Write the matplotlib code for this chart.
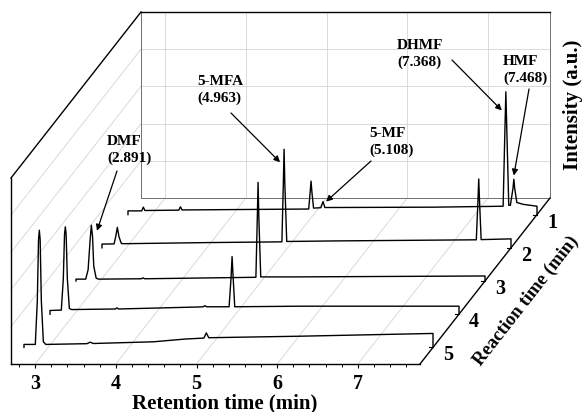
import numpy as np
import matplotlib
matplotlib.use("Agg")
import matplotlib.pyplot as plt
from matplotlib.transforms import ScaledTranslation

plt.rcParams['font.family'] = ['Liberation Serif', 'DejaVu Serif']
plt.rcParams['font.weight'] = 'bold'

# -----------------------------
# Data
# -----------------------------
reaction_times = [1, 2, 3, 4, 5]

ret_1 = [2.70, 2.70, 2.87, 2.89, 2.91, 3.33, 3.35, 3.37, 4.94, 4.958, 4.969, 4.98, 5.00, 5.09, 5.118,
         5.14, 6.50, 7.35, 7.372, 7.384, 7.396, 7.42, 7.44, 7.472, 7.483, 7.494, 7.52, 7.60, 7.77, 7.77]
int_1 = [0.0, 0.02, 0.02, 0.04, 0.022, 0.024, 0.042, 0.025, 0.03, 0.12, 0.18, 0.12, 0.035, 0.037, 0.07,
         0.038, 0.04, 0.045, 0.45, 0.66, 0.45, 0.05, 0.05, 0.14, 0.19, 0.14, 0.065, 0.055, 0.045, 0.0]

ret_2 = [2.70, 2.70, 2.85, 2.87, 2.89, 2.91, 2.94, 2.97, 4.00, 4.93, 4.948, 4.957, 4.966, 4.99, 5.60,
         7.34, 7.36, 7.37, 7.38, 7.40, 7.77, 7.77]
int_2 = [0.0, 0.02, 0.021, 0.06, 0.11, 0.06, 0.023, 0.022, 0.028, 0.032, 0.35, 0.53, 0.35, 0.034, 0.037,
         0.043, 0.25, 0.37, 0.25, 0.044, 0.048, 0.0]

ret_3 = [2.70, 2.70, 2.82, 2.85, 2.875, 2.89, 2.905, 2.92, 2.95, 2.98, 3.51, 3.53, 3.55, 4.93, 4.948,
         4.957, 4.966, 4.99, 5.40, 7.77, 7.77]
int_3 = [0.0, 0.01, 0.01, 0.06, 0.22, 0.30, 0.24, 0.08, 0.015, 0.01, 0.012, 0.017, 0.012, 0.02, 0.35,
         0.53, 0.35, 0.022, 0.022, 0.027, 0.0]

ret_4 = [2.70, 2.70, 2.84, 2.865, 2.88, 2.89, 2.90, 2.915, 2.94, 2.97, 3.51, 3.53, 3.55, 4.56, 4.60,
         4.62, 4.64, 4.92, 4.945, 4.957, 4.97, 4.99, 5.80, 7.77, 7.77]
int_4 = [0.0, 0.02, 0.022, 0.19, 0.43, 0.47, 0.43, 0.19, 0.03, 0.025, 0.028, 0.034, 0.028, 0.039, 0.04,
         0.046, 0.04, 0.04, 0.2, 0.31, 0.2, 0.04, 0.043, 0.043, 0.0]

ret_5 = [2.70, 2.70, 2.84, 2.865, 2.88, 2.89, 2.90, 2.915, 2.94, 2.97, 3.48, 3.52, 3.56, 4.30, 4.70,
         4.93, 4.96, 4.99, 5.40, 6.10, 7.77, 7.77]
int_5 = [0.0, 0.016, 0.016, 0.25, 0.58, 0.63, 0.58, 0.25, 0.03, 0.016, 0.02, 0.028, 0.021, 0.03, 0.045,
         0.05, 0.078, 0.052, 0.055, 0.06, 0.075, 0.0]

traces = {1: (ret_1, int_1), 2: (ret_2, int_2), 3: (ret_3, int_3), 4: (ret_4, int_4), 5: (ret_5, int_5)}

# peak labels: text, trace, arrow tip (ret, int), text pos (fig px), arrow start (fig px)
peak_names = ["DMF\n(2.891)", "5-MFA\n(4.963)", "5-MF\n(5.108)", "DHMF\n(7.368)", "HMF\n(7.468)"]
peak_trace = [3, 2, 1, 1, 1]
peak_tip = [(2.96, 0.27), (4.907, 0.46), (5.155, 0.07), (7.334, 0.56), (7.483, 0.21)]
label_pos = [(107, 150), (197, 90), (369, 142), (397, 54), (503, 70)]
arrow_start = [(117, 171), (231, 113), (371, 161), (452, 60), (529, 89)]

x_min, x_max = 2.70, 7.77
depth_front, depth_back = 5.5, 0.5
step_x, step_y = 0.26, 0.332   # inch per reaction-time unit (oblique view)

W, H = 584, 412
fig = plt.figure(figsize=(W / 100, H / 100), dpi=100)
ax = fig.add_axes([11 / W, 48 / H, 409 / W, 186 / H])
ax.set_xlim(x_min, x_max)
ax.set_ylim(0, 1)
ax.patch.set_visible(False)


def depth(r):
    return ax.transData + ScaledTranslation((depth_front - r) * step_x, (depth_front - r) * step_y,
                                            fig.dpi_scale_trans)


t_back = depth(depth_back)
t_front = depth(depth_front)
grid_c = '#d4d4d4'

# back wall grid
for xv in [3, 4, 5, 6, 7]:
    ax.plot([xv, xv], [0, 1], color=grid_c, lw=0.6, transform=t_back, clip_on=False, zorder=0)
for yv in [0.2, 0.4, 0.6, 0.8]:
    ax.plot([x_min, x_max], [yv, yv], color=grid_c, lw=0.6, transform=t_back, clip_on=False, zorder=0)

# floor and side wall grid (lines going back)
for xv in [3, 4, 5, 6, 7]:
    p0 = t_front.transform((xv, 0))
    p1 = t_back.transform((xv, 0))
    ax.plot([p0[0], p1[0]], [p0[1], p1[1]], color=grid_c, lw=0.6, transform=None, clip_on=False, zorder=0)
for yv in [0.2, 0.4, 0.6, 0.8]:
    p0 = t_front.transform((x_min, yv))
    p1 = t_back.transform((x_min, yv))
    ax.plot([p0[0], p1[0]], [p0[1], p1[1]], color=grid_c, lw=0.6, transform=None, clip_on=False, zorder=0)

# back wall edges
ax.plot([x_min, x_min, x_max, x_max], [1, 0, 0, 1], color='#707070', lw=0.7, transform=t_back,
        clip_on=False, zorder=1)
ax.plot([x_min, x_max], [1, 1], color='k', lw=1.0, transform=t_back, clip_on=False, zorder=3)
# diagonal edges
for (xv, yv) in [(x_min, 1), (x_max, 0)]:
    p0 = t_front.transform((xv, yv))
    p1 = t_back.transform((xv, yv))
    ax.plot([p0[0], p1[0]], [p0[1], p1[1]], color='k', lw=1.0, transform=None, clip_on=False, zorder=3)

# chromatograms, back to front
for r in reaction_times:
    ret, inten = traces[r]
    ax.plot(ret, inten, color='k', lw=1.0, transform=depth(r), clip_on=False, zorder=2)

# reaction time axis ticks and labels
for r in reaction_times:
    tr = depth(r)
    ax.plot([x_max, x_max - 0.05], [0, 0], color='k', lw=0.8, transform=tr, clip_on=False, zorder=3)
    ax.text(x_max, 0, str(r), transform=tr + ScaledTranslation(0.15, -0.08, fig.dpi_scale_trans),
            ha='center', va='center', fontsize=14.5)

# front plane axes
for s in ['top', 'right']:
    ax.spines[s].set_visible(False)
for s in ['left', 'bottom']:
    ax.spines[s].set_linewidth(1.0)
ax.set_yticks([])
ax.set_xticks([3, 4, 5, 6, 7])
ax.set_xticks(np.arange(2.8, 7.8, 0.2), minor=True)
ax.tick_params(axis='x', which='major', direction='out', length=3, width=0.8, pad=4, labelsize=14.5)
ax.tick_params(axis='x', which='minor', direction='out', length=2, width=0.7)

# peak labels with arrows
for name, tr_r, tip, lp, st in zip(peak_names, peak_trace, peak_tip, label_pos, arrow_start):
    fig.text(lp[0] / W, 1 - lp[1] / H, name, ha='left', va='center', fontsize=11, linespacing=1.4)
    ax.annotate('', xy=tip, xycoords=depth(tr_r), xytext=(st[0], H - st[1]), textcoords='figure pixels',
                arrowprops=dict(arrowstyle='-|>', color='k', lw=0.9, mutation_scale=9,
                                shrinkA=0, shrinkB=0))

# axis titles
fig.text(225 / W, 1 - 403 / H, "Retention time (min)", ha='center', va='center', fontsize=15)
fig.text(573 / W, 1 - 105 / H, "Intensity (a.u.)", ha='center', va='center', rotation=90, fontsize=15)
fig.text(526 / W, 1 - 301 / H, "Reaction time (min)", ha='center', va='center', rotation=52,
         rotation_mode='anchor', fontsize=13.5)

plt.savefig("out.png", dpi=100)
